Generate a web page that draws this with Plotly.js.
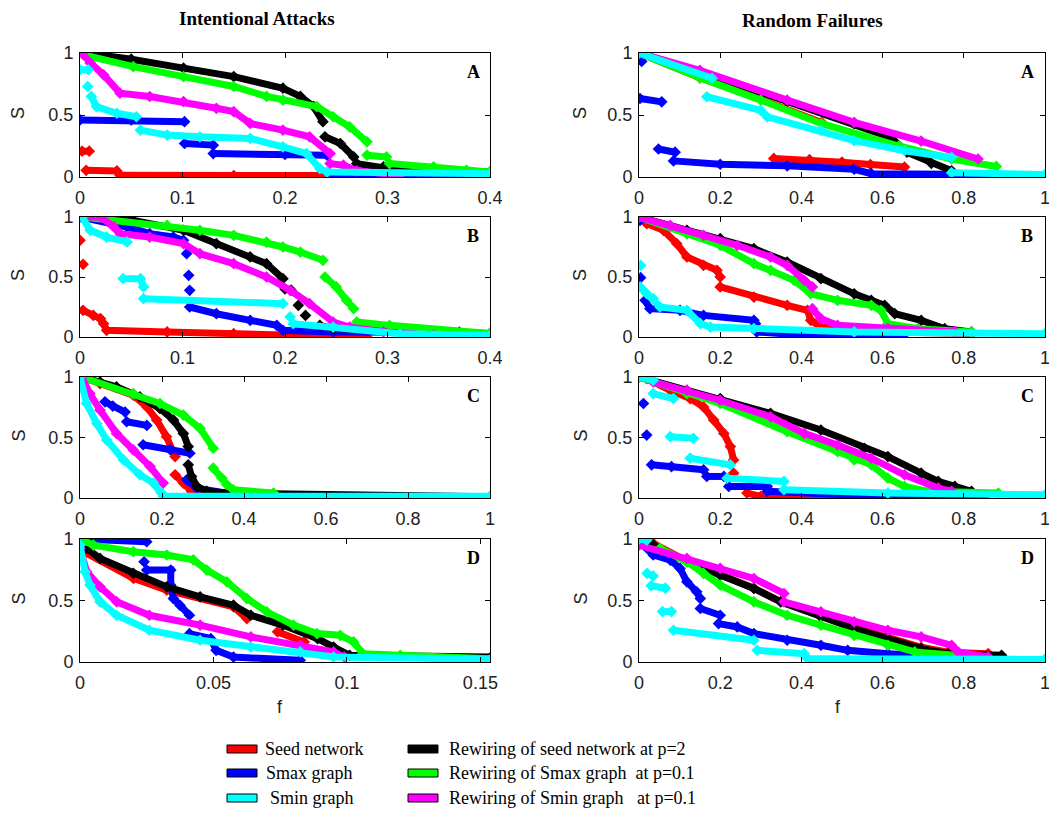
<!DOCTYPE html>
<html>
<head>
<meta charset="utf-8">
<script src="https://cdn.plot.ly/plotly-3.0.1.min.js"></script>
<style>html,body{margin:0;padding:0;overflow:hidden;background:#fff}#chart{width:1049px;height:818px}</style>
</head>
<body>
<div id="chart"></div>
<script>
// ---------------- DATA ----------------
const seriesNames = ["Seed network", "Smax graph", "Smin graph",
  "Rewiring of seed network at p=2", "Rewiring of Smax graph  at p=0.1", "Rewiring of Smin graph   at p=0.1"];
const columnTitles = ["Intentional Attacks", "Random Failures"];
const panelLetters = ["A", "B", "C", "D"];
const xTicksAB = [0, 0.1, 0.2, 0.3, 0.4];
const xTickLabelsAB = ["0", "0.1", "0.2", "0.3", "0.4"];
const xTicksUnit = [0, 0.2, 0.4, 0.6, 0.8, 1];
const xTickLabelsUnit = ["0", "0.2", "0.4", "0.6", "0.8", "1"];
const xTicksD = [0, 0.05, 0.1, 0.15];
const xTickLabelsD = ["0", "0.05", "0.1", "0.15"];
const yTicks = [0, 0.5, 1];
const yTickLabels = ["0", "0.5", "1"];

// Intentional attacks, panel A  (pairs [f, S], null = gap)
const IA_A_seed = [[0.002,0.208],[0.009,0.208],null,[0.006,0.054],[0.036,0.049],null,[0.039,0.014],[0.15,0.012],[0.312,0.012]];
const IA_A_smax = [[0,0.46],[0.05,0.46],[0.102,0.446],null,[0.102,0.27],[0.13,0.257],null,[0.13,0.189],[0.2,0.182],[0.241,0.176],null,[0.245,0.02],[0.4,0.01]];
const IA_A_smin = [[0,0.865],[0.008,0.865],null,[0.0075,0.73],null,[0.011,0.65],[0.016,0.568],[0.036,0.514],[0.055,0.486],null,[0.059,0.378],[0.085,0.338],[0.117,0.324],[0.166,0.311],[0.198,0.243],[0.221,0.189],[0.234,0.068],[0.241,0.04],[0.4,0.027]];
const IA_A_rseed = [[0.005,1.0],[0.05,0.95],[0.101,0.878],[0.15,0.81],[0.198,0.716],[0.215,0.65],[0.228,0.568],[0.237,0.446],null,[0.239,0.324],[0.254,0.27],[0.267,0.162],null,[0.27,0.108],[0.296,0.081],[0.312,0.054],[0.4,0.04]];
const IA_A_rsmax = [[0.003,0.986],[0.052,0.89],[0.101,0.81],[0.15,0.73],[0.182,0.65],[0.198,0.62],[0.231,0.568],[0.247,0.486],[0.263,0.405],[0.28,0.284],null,[0.28,0.176],[0.299,0.162],null,[0.302,0.108],[0.345,0.081],[0.377,0.054],[0.4,0.04]];
const IA_A_rsmin = [[0.002,1.0],[0.01,0.92],[0.023,0.824],[0.039,0.676],[0.068,0.649],[0.101,0.608],[0.133,0.554],[0.15,0.527],[0.166,0.432],[0.198,0.378],[0.224,0.324],[0.244,0.189],null,[0.244,0.108],[0.257,0.095],[0.27,0.05],[0.312,0.014]];

// Intentional attacks, panel B
const IA_B_seed = [[0,0.806],null,[0.003,0.606],null,[0.003,0.222],[0.013,0.18],[0.02,0.153],[0.023,0.111],[0.026,0.056],[0.085,0.042],[0.15,0.028],[0.215,0.014],[0.28,0.0]];
const IA_B_smax = [[0,1.0],[0.046,0.917],[0.068,0.861],[0.091,0.833],[0.101,0.806],null,[0.104,0.694],null,[0.106,0.514],null,[0.107,0.389],null,[0.107,0.25],[0.133,0.194],[0.166,0.139],[0.192,0.097],[0.198,0.056],[0.247,0.042],[0.37,0.04]];
const IA_B_smin = [[0.002,1.0],[0.01,0.889],[0.026,0.833],[0.046,0.792],null,[0.042,0.486],[0.059,0.486],[0.062,0.417],null,[0.062,0.319],[0.198,0.278],null,[0.205,0.167],null,[0.208,0.111],[0.247,0.083],[0.312,0.028],[0.4,0.014]];
const IA_B_rseed = [[0.005,1.0],[0.052,0.972],[0.101,0.889],[0.133,0.778],[0.166,0.667],[0.182,0.611],[0.198,0.486],null,[0.2,0.4],[0.206,0.39],null,[0.213,0.264],null,[0.22,0.18],null,[0.234,0.097],[0.247,0.07],[0.4,0.03]];
const IA_B_rsmax = [[0.003,1.0],[0.085,0.93],[0.117,0.889],[0.15,0.847],[0.182,0.79],[0.198,0.75],[0.215,0.708],[0.237,0.639],null,[0.239,0.5],[0.25,0.417],[0.26,0.306],[0.267,0.236],null,[0.27,0.125],[0.302,0.097],[0.4,0.03]];
const IA_B_rsmin = [[0.002,1.0],[0.02,1.0],[0.033,0.917],[0.039,0.861],[0.068,0.833],[0.101,0.778],[0.117,0.694],[0.15,0.611],[0.182,0.5],[0.205,0.389],[0.224,0.278],[0.247,0.125],[0.263,0.083],[0.296,0.042],[0.345,0.014]];

// Intentional attacks, panel C
const IA_C_seed = [[0.004,1.0],[0.049,0.945],[0.13,0.849],[0.163,0.753],[0.187,0.644],[0.211,0.507],[0.232,0.342],null,[0.232,0.192],[0.252,0.123],[0.272,0.055],[0.293,0.041]];
const IA_C_smax = [[0.061,0.795],[0.08,0.76],[0.11,0.71],null,[0.114,0.63],[0.163,0.6],null,[0.154,0.44],[0.22,0.4],[0.268,0.37],null,[0.26,0.15],[0.285,0.08],[0.358,0.04]];
const IA_C_smin = [[0,1.0],[0.016,0.781],[0.041,0.616],[0.065,0.479],[0.106,0.315],[0.146,0.192],[0.179,0.123],[0.199,0.041],[0.203,0.014],[1.0,0.014]];
const IA_C_rseed = [[0.004,1.0],[0.049,0.959],[0.089,0.918],[0.146,0.836],[0.195,0.74],[0.228,0.644],[0.252,0.534],[0.264,0.425],null,[0.264,0.274],[0.272,0.178],[0.285,0.096],[0.309,0.055],[0.358,0.041],[1.0,0.01]];
const IA_C_rsmax = [[0.004,1.0],[0.13,0.863],[0.195,0.781],[0.252,0.685],[0.293,0.575],[0.325,0.411],null,[0.325,0.247],[0.346,0.164],null,[0.358,0.11],[0.374,0.068],[0.472,0.041]];
const IA_C_rsmin = [[0.004,1.0],[0.024,0.863],[0.049,0.726],[0.089,0.534],[0.13,0.397],[0.171,0.26],[0.203,0.123]];

// Intentional attacks, panel D
const IA_D_seed = [[0,1.0],[0.00125,0.897],[0.02,0.68],[0.0325,0.584],[0.0575,0.448],[0.0625,0.353],null,[0.074,0.245],[0.084,0.163],null,[0.095,0.054]];
const IA_D_smax = [[0,1.0],[0.025,0.978],null,[0.024,0.815],null,[0.025,0.747],[0.034,0.747],[0.034,0.625],[0.035,0.516],[0.0375,0.46],[0.041,0.38],null,[0.041,0.23],[0.049,0.19],[0.051,0.095],[0.0575,0.04],[0.0825,0.014]];
const IA_D_smin = [[0,0.95],[0.0019,0.734],[0.00375,0.625],[0.0075,0.489],[0.01375,0.38],[0.026,0.258],[0.045,0.177],[0.064,0.122],[0.0825,0.082],[0.095,0.04],[0.154,0.022]];
const IA_D_rseed = [[0,1.0],[0.0025,0.924],[0.0075,0.842],[0.02,0.72],[0.0325,0.611],[0.045,0.53],[0.0575,0.462],[0.064,0.38],[0.076,0.3],[0.089,0.19],[0.095,0.122],[0.101,0.054],[0.154,0.04]];
const IA_D_rsmax = [[0,1.0],[0.005,0.95],[0.02,0.897],[0.0325,0.87],[0.0425,0.83],[0.0475,0.747],[0.055,0.652],[0.0625,0.516],[0.07,0.408],[0.08,0.3],[0.0888,0.231],[0.0975,0.217],[0.1025,0.163],[0.106,0.068],[0.12,0.054],[0.154,0.027]];
const IA_D_rsmin = [[0,0.924],[0.0025,0.734],[0.0075,0.611],[0.01375,0.489],[0.026,0.38],[0.045,0.3],[0.064,0.204],[0.0825,0.136],[0.095,0.082],[0.099,0.04]];

// Random failures, panel A
const RF_A_seed = [[0,1.0],[0.15,0.8],[0.3,0.625],[0.45,0.44],null,[0.332,0.15],[0.42,0.14],[0.5,0.12],[0.57,0.1],[0.654,0.08]];
const RF_A_smax = [[0.0066,0.932],null,[0.0025,0.633],[0.056,0.606],null,[0.048,0.226],[0.089,0.2],null,[0.085,0.13],[0.2,0.103],[0.365,0.09],[0.53,0.0625],[0.572,0.027],[0.77,0.022],[1.0,0.0]];
const RF_A_smin = [[0,1.0],[0.18,0.796],null,[0.167,0.647],[0.3,0.538],[0.316,0.484],[0.448,0.375],[0.53,0.293],[0.654,0.212],[0.77,0.158],null,[0.77,0.035],[1.0,0.02]];
const RF_A_rseed = [[0,1.0],[0.15,0.85],[0.365,0.61],[0.53,0.43],[0.62,0.32],[0.66,0.2],[0.72,0.11],[0.77,0.05]];
const RF_A_rsmax = [[0,1.0],[0.15,0.8],[0.3,0.62],[0.45,0.43],[0.64,0.25],[0.77,0.145],[0.88,0.085]];
const RF_A_rsmin = [[0,1.0],[0.15,0.86],[0.365,0.62],[0.53,0.44],[0.695,0.29],[0.835,0.145]];

// Random failures, panel B
const RF_B_seed = [[0.0066,1.0],[0.019,0.944],[0.06,0.889],[0.093,0.778],[0.118,0.667],[0.159,0.597],[0.192,0.556],[0.2,0.5],null,[0.2,0.417],[0.283,0.333],[0.365,0.264],[0.415,0.222],[0.423,0.139],[0.448,0.083],[0.489,0.069],[0.613,0.042],[0.82,0.03]];
const RF_B_smax = [[0.0025,0.972],null,[0.004,0.494],null,[0.015,0.306],[0.027,0.236],[0.101,0.222],[0.159,0.18],[0.283,0.139],[0.287,0.111],null,[0.29,0.042],[0.415,0.014],[0.65,0.0]];
const RF_B_smin = [[0.004,0.597],null,[0.0025,0.417],[0.019,0.361],[0.035,0.32],[0.052,0.25],[0.118,0.222],[0.151,0.111],[0.176,0.083],[0.283,0.069],[0.53,0.042],[1.0,0.028]];
const RF_B_rseed = [[0,1.0],[0.118,0.889],[0.2,0.82],[0.283,0.736],[0.365,0.625],[0.448,0.486],[0.53,0.36],[0.572,0.306],[0.605,0.264],[0.63,0.194],[0.695,0.139],[0.753,0.069],[0.819,0.042]];
const RF_B_rsmax = [[0,1.0],[0.118,0.861],[0.2,0.764],[0.283,0.611],[0.324,0.556],[0.382,0.472],[0.423,0.361],[0.489,0.306],[0.572,0.264],[0.596,0.222],[0.613,0.111],[0.687,0.069],[0.819,0.042]];
const RF_B_rsmin = [[0,1.0],[0.077,0.93],[0.159,0.847],[0.242,0.764],[0.324,0.667],[0.365,0.597],[0.407,0.472],[0.427,0.417],null,[0.427,0.236],[0.448,0.153],[0.489,0.097],[0.613,0.069],[0.778,0.042]];

// Random failures, panel C
const RF_C_seed = [[0,1.0],[0.019,0.986],[0.077,0.89],[0.126,0.822],[0.159,0.753],[0.184,0.644],[0.209,0.534],[0.225,0.425],[0.233,0.315],null,[0.233,0.205],null,[0.266,0.041],[0.3,0.014],[0.737,0.0]];
const RF_C_smax = [[0.011,0.781],null,[0.019,0.52],null,[0.031,0.274],[0.08,0.26],[0.159,0.233],null,[0.167,0.178],[0.209,0.178],null,[0.221,0.096],[0.316,0.096],null,[0.316,0.055],[0.596,0.014],[0.85,0.01]];
const RF_C_smin = [[0,1.0],[0.035,0.973],null,[0.035,0.863],[0.085,0.822],null,[0.077,0.507],[0.134,0.493],null,[0.126,0.329],[0.225,0.274],null,[0.217,0.164],[0.357,0.137],null,[0.357,0.068],[0.613,0.041],[1.0,0.027]];
const RF_C_rseed = [[0,1.0],[0.118,0.89],[0.2,0.822],[0.324,0.699],[0.448,0.562],[0.555,0.411],[0.613,0.342],[0.695,0.205],[0.737,0.137],[0.778,0.096],[0.819,0.055]];
const RF_C_rsmax = [[0,1.0],[0.118,0.863],[0.2,0.781],[0.365,0.548],[0.489,0.384],[0.53,0.315],[0.572,0.274],[0.613,0.164],[0.654,0.096],[0.712,0.055],[0.885,0.041]];
const RF_C_rsmin = [[0.035,0.959],[0.118,0.89],[0.2,0.808],[0.324,0.671],[0.407,0.534],[0.489,0.438],[0.572,0.329],[0.654,0.192],[0.737,0.082],[0.77,0.055]];

// Random failures, panel D
const RF_D_seed = [[0.035,0.965],[0.118,0.82],[0.2,0.71],[0.283,0.6],[0.349,0.49],[0.448,0.37],[0.53,0.28],[0.613,0.2],[0.695,0.12],[0.761,0.08],[0.86,0.068]];
const RF_D_smax = [[0,0.978],[0.035,0.87],[0.077,0.829],[0.101,0.761],[0.118,0.652],[0.142,0.571],[0.151,0.516],null,[0.151,0.435],[0.2,0.38],null,[0.196,0.312],[0.242,0.285],[0.283,0.231],[0.365,0.177],[0.448,0.136],[0.514,0.095],[0.613,0.068],[0.778,0.041],[0.86,0.027]];
const RF_D_smin = [[0,1.0],[0.019,0.99],null,[0.02,0.72],[0.035,0.7],null,[0.03,0.62],[0.065,0.6],null,[0.058,0.41],[0.08,0.41],null,[0.085,0.258],[0.283,0.177],null,[0.291,0.095],[0.407,0.068],null,[0.415,0.027],[1.0,0.022]];
const RF_D_rseed = [[0.035,0.951],[0.118,0.815],[0.2,0.707],[0.283,0.598],[0.349,0.489],[0.448,0.367],[0.53,0.272],[0.613,0.19],[0.695,0.109],[0.761,0.068],[0.893,0.054]];
const RF_D_rsmax = [[0.052,0.924],[0.118,0.815],[0.159,0.72],[0.2,0.625],[0.283,0.489],[0.365,0.38],[0.448,0.299],[0.53,0.217],[0.613,0.136],[0.679,0.082],[0.778,0.054]];
const RF_D_rsmin = [[0,0.951],[0.118,0.842],[0.2,0.761],[0.283,0.679],[0.357,0.557],null,[0.357,0.489],[0.448,0.408],[0.53,0.326],[0.613,0.258],[0.695,0.204],[0.77,0.136],[0.786,0.082],[0.86,0.041]];

// ---------------- STYLE / LAYOUT ----------------
const W = 1049, H = 818;
const colors = ["#ff0000", "#0000ff", "#00ffff", "#000000", "#00ff00", "#ff00ff"];
const drawOrder = [0, 1, 3, 4, 5, 2]; // red, blue, black, green, magenta, cyan on top

const panels = [
  {series: [IA_A_seed, IA_A_smax, IA_A_smin, IA_A_rseed, IA_A_rsmax, IA_A_rsmin], col: 0, row: 0, xr: [0, 0.4], tv: xTicksAB, tt: xTickLabelsAB},
  {series: [IA_B_seed, IA_B_smax, IA_B_smin, IA_B_rseed, IA_B_rsmax, IA_B_rsmin], col: 0, row: 1, xr: [0, 0.4], tv: xTicksAB, tt: xTickLabelsAB},
  {series: [IA_C_seed, IA_C_smax, IA_C_smin, IA_C_rseed, IA_C_rsmax, IA_C_rsmin], col: 0, row: 2, xr: [0, 1], tv: xTicksUnit, tt: xTickLabelsUnit},
  {series: [IA_D_seed, IA_D_smax, IA_D_smin, IA_D_rseed, IA_D_rsmax, IA_D_rsmin], col: 0, row: 3, xr: [0, 0.1536], tv: xTicksD, tt: xTickLabelsD},
  {series: [RF_A_seed, RF_A_smax, RF_A_smin, RF_A_rseed, RF_A_rsmax, RF_A_rsmin], col: 1, row: 0, xr: [0, 1], tv: xTicksUnit, tt: xTickLabelsUnit},
  {series: [RF_B_seed, RF_B_smax, RF_B_smin, RF_B_rseed, RF_B_rsmax, RF_B_rsmin], col: 1, row: 1, xr: [0, 1], tv: xTicksUnit, tt: xTickLabelsUnit},
  {series: [RF_C_seed, RF_C_smax, RF_C_smin, RF_C_rseed, RF_C_rsmax, RF_C_rsmin], col: 1, row: 2, xr: [0, 1], tv: xTicksUnit, tt: xTickLabelsUnit},
  {series: [RF_D_seed, RF_D_smax, RF_D_smin, RF_D_rseed, RF_D_rsmax, RF_D_rsmin], col: 1, row: 3, xr: [0, 1], tv: xTicksUnit, tt: xTickLabelsUnit}
];

// pixel boxes of the panels
const colPx = [[80, 490], [639, 1045]];
const rowPx = [[53, 177], [217, 337], [377, 498], [539, 662]];
const px = x => x / W;
const py = y => 1 - y / H;

function toXY(pairs) {
  const x = [], y = [];
  pairs.forEach(p => { if (p === null) { x.push(null); y.push(null); } else { x.push(p[0]); y.push(p[1]); } });
  return {x, y};
}

const traces = [];
const layout = {
  width: W, height: H,
  margin: {l: 0, r: 0, t: 0, b: 0},
  paper_bgcolor: "#ffffff", plot_bgcolor: "#ffffff",
  showlegend: false,
  font: {family: "Liberation Sans, Arial, sans-serif", size: 18, color: "#222"},
  annotations: [], shapes: []
};

const tickFont = {family: "Liberation Sans, Arial, sans-serif", size: 18, color: "#222"};

panels.forEach((p, i) => {
  const n = i + 1;
  const xa = n === 1 ? "x" : "x" + n;
  const ya = n === 1 ? "y" : "y" + n;
  drawOrder.forEach(k => {
    const d = toXY(p.series[k]);
    traces.push({
      type: "scatter", mode: "lines+markers",
      x: d.x, y: d.y, xaxis: xa, yaxis: ya,
      name: seriesNames[k], connectgaps: false,
      line: {color: colors[k], width: 7},
      marker: {color: colors[k], size: 9, symbol: "diamond"},
      hoverinfo: "skip", cliponaxis: true
    });
  });
  const cx = colPx[p.col], ry = rowPx[p.row];
  const axCommon = {
    showline: true, linecolor: "#000", linewidth: 1, mirror: "ticks",
    ticks: "inside", ticklen: 5, tickcolor: "#000", tickwidth: 1,
    showgrid: false, zeroline: false, tickfont: tickFont, fixedrange: true,
    ticklabeloverflow: "allow"
  };
  layout["xaxis" + (n === 1 ? "" : n)] = Object.assign({}, axCommon, {
    domain: [px(cx[0]), px(cx[1])], range: p.xr, anchor: ya,
    tickmode: "array", tickvals: p.tv, ticktext: p.tt, ticklabelstandoff: 4
  });
  layout["yaxis" + (n === 1 ? "" : n)] = Object.assign({}, axCommon, {
    domain: [py(ry[1]), py(ry[0])], range: [0, 1], anchor: xa,
    tickmode: "array", tickvals: yTicks, ticktext: yTickLabels, ticklabelstandoff: 2
  });
  // panel letter
  layout.annotations.push({
    xref: "paper", yref: "paper", x: px(p.col === 0 ? 473 : 1027), y: py(ry[0] + 19),
    text: "<b>" + panelLetters[p.row] + "</b>", showarrow: false,
    xanchor: "center", yanchor: "middle",
    font: {family: "Liberation Serif, Times New Roman, serif", size: 18, color: "#000"}
  });
  // y-axis title S
  layout.annotations.push({
    xref: "paper", yref: "paper", x: px(p.col === 0 ? 18 : 580), y: py((ry[0] + ry[1]) / 2 - 2),
    text: "S", textangle: -90, showarrow: false, xanchor: "center", yanchor: "middle",
    font: {family: "Liberation Sans, Arial, sans-serif", size: 18, color: "#222"}
  });
});

// column titles
[[257, 19], [812, 20]].forEach((pos, c) => {
  layout.annotations.push({
    xref: "paper", yref: "paper", x: px(pos[0]), y: py(pos[1]),
    text: "<b>" + columnTitles[c] + "</b>", showarrow: false, xanchor: "center", yanchor: "middle",
    font: {family: "Liberation Serif, Times New Roman, serif", size: 19, color: "#000"}
  });
});
// x-axis titles f
[280, 838].forEach(x => {
  layout.annotations.push({
    xref: "paper", yref: "paper", x: px(x), y: py(707),
    text: "f", showarrow: false, xanchor: "center", yanchor: "middle",
    font: {family: "Liberation Sans, Arial, sans-serif", size: 18, color: "#222"}
  });
});

// legend (two columns of swatches)
const legendRows = [749, 773, 798];
const legendCols = [{sx: 227, tx: [263, 264, 268]}, {sx: 408, tx: [447, 447, 447]}];
seriesNames.forEach((name, k) => {
  const c = Math.floor(k / 3), r = k % 3;
  const yc = legendRows[r];
  layout.shapes.push({
    type: "rect", xref: "paper", yref: "paper",
    x0: px(legendCols[c].sx), x1: px(legendCols[c].sx + 30),
    y0: py(yc - 4), y1: py(yc + 4),
    fillcolor: colors[k], line: {color: "#000", width: 1}
  });
  layout.annotations.push({
    xref: "paper", yref: "paper", x: px(legendCols[c].tx[r]), y: py(yc),
    text: name.replace(/ /g, "\u00a0"), showarrow: false, xanchor: "left", yanchor: "middle",
    font: {family: "Liberation Serif, Times New Roman, serif", size: 18, color: "#000"}
  });
});

Plotly.newPlot("chart", traces, layout, {staticPlot: true, displayModeBar: false});
</script>
</body>
</html>
